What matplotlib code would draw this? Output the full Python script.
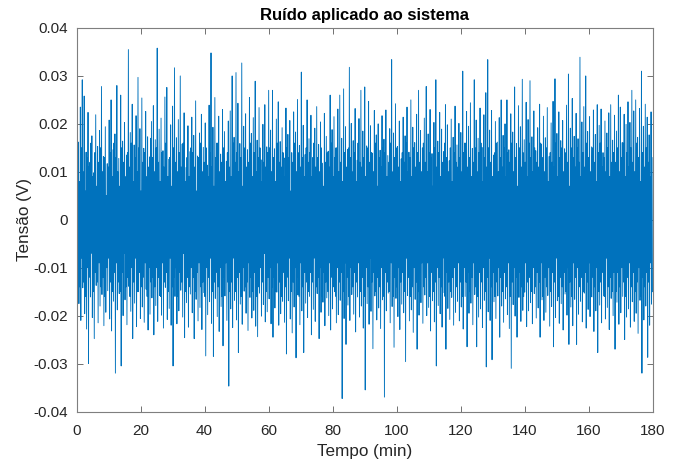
import numpy as np
import matplotlib
matplotlib.use("Agg")
import matplotlib.pyplot as plt

# Large positive excursions of the noise (mV), left to right
upper_mv = [
    35.9, 16.2, 23.5, 29.2, 25.8, 14.1, 22.4, 12.0, 17.5, 9.8, 21.9, 15.3, 18.6, 27.8, 13.2, 19.4, 11.7, 20.8, 25.0, 14.6,
    17.9, 28.0, 12.8, 26.0, 16.4, 20.3, 13.5, 35.5, 18.2, 24.1, 15.6, 21.7, 29.7, 19.0, 25.4, 14.9, 22.6, 17.3, 13.1, 20.5,
    23.8, 16.7, 35.8, 18.9, 21.2, 14.4, 25.6, 27.6, 12.6, 19.8, 23.7, 31.7, 17.1, 20.9, 30.0, 15.8, 22.3, 10.9, 19.6, 14.2,
    21.4, 17.6, 24.8, 13.3, 18.1, 22.0, 15.1, 20.2, 11.4, 23.9, 34.8, 19.3, 25.5, 16.0, 21.6, 13.7, 23.0, 18.4, 12.2, 20.6,
    22.7, 30.0, 17.2, 30.7, 24.3, 15.9, 32.7, 19.5, 22.1, 14.6, 25.5, 18.0, 21.3, 28.9, 16.6, 23.4, 12.5, 19.9, 24.0, 15.2,
    27.0, 18.7, 27.0, 14.8, 21.0, 24.6, 16.3, 19.2, 12.9, 23.3, 17.8, 20.7, 14.0, 22.5, 18.3, 25.1, 15.5, 30.8, 19.7, 13.6,
    25.0, 16.9, 21.8, 13.0, 19.1, 23.6, 15.7, 20.4, 11.8, 22.2, 17.4, 14.3, 26.0, 18.8, 21.5, 15.0, 23.1, 26.0, 17.0, 27.3,
    19.4, 14.7, 31.8, 20.1, 16.5, 23.2, 12.4, 21.1, 27.0, 18.5, 27.7, 15.4, 24.7, 19.6, 13.9, 22.8, 17.7, 20.0, 14.5, 21.7,
    16.8, 22.9, 13.4, 19.0, 33.4, 18.1, 24.2, 15.3, 20.6, 12.7, 21.4, 17.5, 23.5, 14.1, 25.0, 19.3, 16.1, 22.0, 27.0, 18.6,
    15.0, 21.2, 27.8, 17.9, 23.0, 13.8, 20.3, 29.2, 16.4, 22.4, 18.9, 14.2, 24.0, 19.8, 12.3, 21.0, 17.2, 23.7, 15.6, 20.1,
    18.2, 31.0, 16.0, 22.6, 19.5, 24.4, 14.9, 29.2, 20.8, 17.0, 23.3, 15.1, 21.9, 26.5, 33.4, 18.7, 22.8, 13.5, 20.5, 16.2,
    21.3, 25.0, 17.6, 20.0, 25.0, 14.6, 22.1, 18.3, 27.7, 15.9, 23.8, 19.4, 29.3, 16.7, 24.5, 20.9, 29.0, 17.3, 22.7, 14.4,
    19.2, 24.1, 15.8, 21.6, 17.1, 23.4, 13.2, 20.2, 24.7, 29.4, 18.0, 22.5, 16.5, 20.7, 14.8, 23.9, 30.4, 19.1, 25.3, 17.4,
    22.2, 16.9, 33.9, 20.4, 23.6, 30.0, 18.4, 21.5, 15.2, 22.9, 17.8, 24.0, 19.7, 23.1, 14.0, 20.6, 18.1, 22.3, 24.0, 16.6,
    21.8, 18.5, 26.0, 23.5, 16.1, 22.0, 19.9, 24.6, 20.3, 27.0, 22.7, 25.0, 17.2, 23.2, 31.0, 19.5, 24.1, 21.4, 17.7, 22.5,
]

# Large negative excursions of the noise (mV, magnitudes)
lower_mv = [
    29.4, 17.5, 21.0, 14.2, 19.6, 22.8, 30.0, 16.1, 20.4, 24.8, 13.7, 21.5, 18.0, 15.6, 22.1, 19.3, 14.8, 20.7, 23.2, 17.0,
    32.0, 18.8, 15.4, 30.5, 20.0, 16.7, 21.9, 13.9, 19.1, 24.8, 17.4, 22.3, 15.0, 20.6, 18.2, 21.4, 14.5, 23.0, 19.7, 16.3,
    24.0, 17.9, 21.2, 15.8, 19.9, 22.6, 14.1, 20.8, 18.5, 22.0, 30.5, 16.0, 21.7, 19.0, 14.7, 20.3, 24.6, 17.3, 22.4, 15.5,
    19.4, 24.8, 16.6, 21.1, 18.3, 22.9, 15.2, 28.4, 19.8, 17.1, 21.6, 28.5, 16.4, 20.2, 23.3, 18.1, 26.3, 15.9, 21.0, 34.7,
    18.6, 22.5, 16.8, 20.9, 27.7, 17.6, 21.8, 14.9, 19.5, 23.1, 16.2, 20.5, 18.9, 22.2, 24.4, 15.3, 20.1, 17.7, 21.3, 19.2,
    16.5, 21.7, 24.5, 18.4, 15.1, 22.0, 19.6, 17.0, 21.4, 28.0, 16.9, 20.7, 23.6, 18.2, 28.8, 15.7, 21.9, 19.0, 27.7, 17.4,
    20.4, 16.0, 24.0, 18.7, 21.2, 15.4, 24.8, 19.3, 17.2, 22.1, 16.3, 20.0, 23.0, 18.6, 15.0, 21.5, 19.8, 16.8, 37.3, 20.6,
    26.0, 17.8, 21.0, 15.6, 19.7, 23.4, 16.1, 20.3, 18.0, 22.6, 35.5, 17.5, 21.8, 19.1, 26.9, 15.9, 20.9, 18.4, 22.7, 16.7,
    37.0, 19.0, 15.3, 21.5, 18.1, 26.6, 16.4, 20.2, 22.9, 17.6, 19.4, 29.6, 15.8, 21.1, 18.8, 23.5, 16.6, 27.0, 19.9, 17.3,
    21.6, 15.7, 20.0, 18.3, 23.2, 16.9, 21.3, 30.5, 17.9, 19.6, 22.4, 15.2, 27.0, 18.5, 20.8, 16.2, 22.0, 19.3, 17.0, 21.1,
    18.2, 22.8, 16.0, 26.5, 19.5, 17.4, 21.9, 15.6, 26.5, 20.3, 18.6, 22.5, 16.8, 30.7, 19.2, 21.0, 29.2, 17.1, 20.6, 15.9,
    24.5, 18.0, 21.4, 16.5, 19.8, 22.7, 31.0, 17.7, 20.1, 24.5, 16.2, 21.2, 18.9, 15.1, 22.3, 19.0, 17.3, 21.7, 15.4, 20.5,
    18.4, 24.5, 16.7, 21.0, 19.3, 15.8, 22.2, 18.1, 26.5, 20.4, 16.9, 21.6, 17.5, 23.0, 15.5, 19.9, 26.0, 18.2, 22.1, 16.6,
    26.0, 19.7, 17.0, 21.3, 15.3, 22.6, 18.7, 20.2, 16.1, 23.3, 19.0, 27.7, 17.8, 21.5, 15.9, 20.7, 18.3, 22.9, 16.4, 20.0,
    27.0, 17.2, 21.8, 19.4, 16.0, 25.0, 20.3, 18.6, 22.4, 17.1, 21.2, 19.5, 23.7, 16.8, 32.0, 20.9, 18.0, 28.7, 22.0, 17.6,
]

# Smaller positive excursions between the peaks (mV), the dense core band
upper_core_mv = [
    12, 8, 15, 10, 6, 13, 11, 16, 9, 14, 7, 12, 15, 10, 13, 5, 11, 14, 9, 16,
    13, 10, 7, 15, 12, 9, 14, 11, 16, 8, 13, 10, 15, 6, 12, 14, 9, 11, 17, 13,
    10, 15, 12, 8, 14, 11, 16, 9, 13, 7, 15, 12, 10, 14, 11, 16, 8, 13, 9, 15,
    14, 11, 6, 13, 16, 10, 12, 15, 9, 14, 11, 7, 13, 16, 10, 12, 15, 8, 14, 11,
    9, 16, 12, 14, 10, 13, 7, 15, 11, 12, 16, 9, 14, 10, 13, 15, 8, 12, 11, 14,
    15, 10, 13, 8, 16, 12, 11, 14, 9, 15, 13, 6, 12, 16, 10, 14, 11, 13, 9, 15,
    12, 14, 9, 16, 11, 13, 10, 15, 7, 12, 14, 11, 16, 9, 13, 15, 10, 12, 8, 14,
    11, 15, 13, 10, 14, 8, 16, 12, 11, 13, 9, 15, 12, 14, 10, 16, 7, 13, 11, 15,
    14, 9, 12, 16, 10, 13, 15, 11, 8, 14, 12, 16, 10, 13, 9, 15, 11, 14, 12, 10,
    16, 12, 10, 14, 13, 7, 15, 11, 14, 9, 12, 16, 13, 10, 15, 8, 14, 12, 11, 13,
    10, 14, 16, 11, 13, 9, 12, 15, 10, 14, 16, 8, 13, 11, 15, 12, 9, 14, 16, 10,
    13, 11, 15, 9, 14, 12, 16, 10, 13, 7, 15, 11, 14, 12, 9, 16, 13, 10, 15, 12,
    11, 16, 13, 10, 15, 8, 14, 12, 11, 16, 9, 13, 15, 10, 14, 12, 7, 15, 13, 11,
    15, 12, 9, 14, 11, 16, 13, 10, 15, 12, 8, 14, 16, 11, 13, 10, 15, 9, 12, 14,
    12, 15, 10, 13, 16, 9, 14, 11, 15, 12, 10, 16, 13, 8, 14, 11, 15, 12, 9, 13,
]

# Smaller negative excursions between the peaks (mV, magnitudes)
lower_core_mv = [
    11, 14, 8, 13, 16, 10, 12, 7, 15, 11, 13, 9, 14, 12, 16, 10, 8, 13, 15, 11,
    9, 13, 15, 11, 7, 14, 12, 16, 10, 13, 8, 15, 11, 14, 12, 9, 16, 10, 13, 12,
    14, 10, 12, 16, 9, 13, 11, 15, 8, 14, 12, 10, 16, 11, 13, 7, 15, 12, 14, 10,
    12, 15, 11, 9, 14, 13, 16, 10, 12, 8, 15, 13, 11, 14, 10, 16, 12, 9, 13, 15,
    13, 8, 15, 12, 11, 16, 10, 14, 13, 9, 12, 15, 11, 16, 14, 10, 13, 7, 15, 12,
    10, 14, 12, 15, 9, 13, 16, 11, 14, 12, 8, 15, 13, 10, 12, 16, 9, 14, 11, 13,
    15, 11, 13, 8, 14, 12, 10, 16, 11, 13, 15, 9, 12, 14, 16, 10, 13, 11, 15, 9,
    12, 16, 10, 14, 11, 13, 9, 15, 12, 16, 10, 14, 8, 13, 11, 15, 12, 14, 10, 16,
    11, 13, 15, 9, 16, 12, 14, 10, 13, 11, 15, 8, 12, 16, 14, 10, 13, 15, 11, 9,
    14, 12, 9, 16, 11, 15, 13, 10, 12, 14, 8, 16, 11, 13, 15, 12, 10, 14, 9, 13,
    16, 10, 13, 11, 15, 12, 9, 14, 16, 11, 13, 10, 15, 12, 8, 14, 11, 16, 13, 10,
    12, 15, 11, 14, 9, 16, 13, 10, 12, 15, 11, 14, 16, 9, 13, 12, 15, 10, 14, 11,
    13, 9, 16, 12, 14, 10, 15, 11, 13, 8, 16, 12, 14, 11, 15, 10, 13, 16, 9, 12,
    10, 14, 12, 15, 11, 13, 9, 16, 12, 14, 10, 15, 13, 11, 16, 8, 14, 12, 15, 11,
    15, 11, 14, 10, 13, 16, 12, 9, 14, 11, 15, 13, 10, 16, 12, 14, 11, 13, 9, 15,
]

t_start, t_end = 0, 180
x_ticks = [0, 20, 40, 60, 80, 100, 120, 140, 160, 180]
y_ticks = [-0.04, -0.03, -0.02, -0.01, 0, 0.01, 0.02, 0.03, 0.04]
y_ticklabels = ["-0.04", "-0.03", "-0.02", "-0.01", "0", "0.01", "0.02", "0.03", "0.04"]

# Samples in groups of four: peak up, peak down, core up, core down
n = 4 * len(upper_mv)
signal = np.empty(n)
signal[0::4] = np.array(upper_mv) / 1000.0
signal[1::4] = -np.array(lower_mv) / 1000.0
signal[2::4] = np.array(upper_core_mv) / 1000.0
signal[3::4] = -np.array(lower_core_mv) / 1000.0
time = np.linspace(t_start, t_end, n)

plt.rcParams['font.family'] = ['Liberation Sans', 'DejaVu Sans']

fig = plt.figure(figsize=(6.9, 4.63), dpi=100)
ax = fig.add_axes([76.5 / 690, 51.5 / 463, 576 / 690, 383.5 / 463])

ax.plot(time, signal, color='#0072BD', linewidth=0.65, antialiased=True)

ax.set_xlim(t_start, t_end)
ax.set_ylim(-0.04, 0.04)
ax.set_xticks(x_ticks)
ax.set_yticks(y_ticks)
ax.set_yticklabels(y_ticklabels)

axis_col = '#262626'
for sp in ax.spines.values():
    sp.set_color('#7f7f7f')
    sp.set_linewidth(0.8)
ax.tick_params(direction='in', length=4, width=0.6, color='#5a5a5a',
               top=True, right=True, labelsize=11, labelcolor=axis_col)
ax.tick_params(axis='x', pad=9)
ax.tick_params(axis='y', pad=6)

ax.set_xlabel('Tempo (min)', fontsize=12.3, color=axis_col, labelpad=4)
ax.set_ylabel('Tensão (V)', fontsize=12.3, color=axis_col, labelpad=1)
ax.set_title('Ruído aplicado ao sistema', fontsize=12, fontweight='bold', color='black', pad=6)

fig.savefig('out.png', dpi=100)
